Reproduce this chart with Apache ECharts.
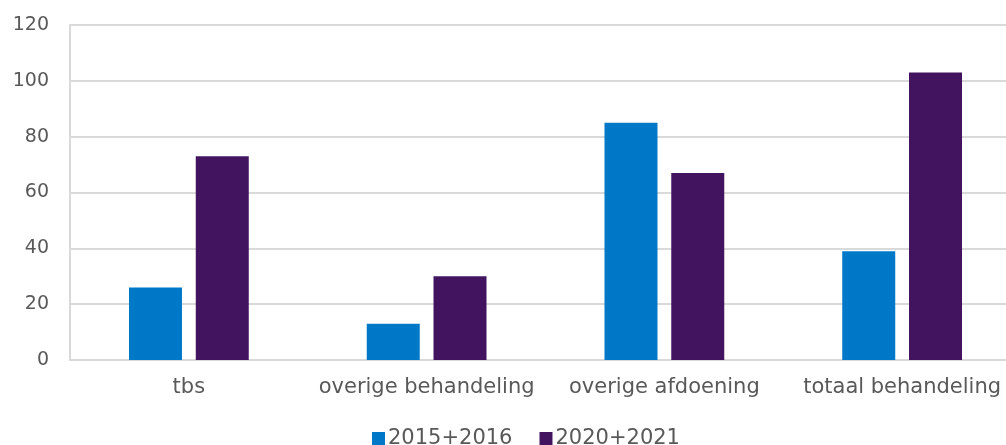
<!DOCTYPE html>
<html>
<head>
<meta charset="utf-8">
<script src="https://cdn.jsdelivr.net/npm/echarts@6/dist/echarts.min.js"></script>
<style>html,body{margin:0;padding:0;background:#fff;}#c{width:1006px;height:445px;}</style>
</head>
<body>
<div id="c"></div>
<script>
var categories = ['tbs', 'overige behandeling', 'overige afdoening', 'totaal behandeling'];
var series2015 = [26, 13, 85, 39];
var series2020 = [73, 30, 67, 103];
var seriesNames = ['2015+2016', '2020+2021'];
var yTicks = {min: 0, max: 120, interval: 20};

var chart = echarts.init(document.getElementById('c'));
var font = '"DejaVu Sans", Verdana, sans-serif';
chart.setOption({
  animation: false,
  textStyle: {fontFamily: font},
  grid: {left: 70, width: 951, top: 25, bottom: 85, containLabel: false, outerBoundsMode: 'none'},
  legend: {
    data: seriesNames,
    left: 367, top: 423,
    itemWidth: 13, itemHeight: 13, itemGap: 27,
    icon: 'rect',
    textStyle: {color: '#595959', fontSize: 21, fontFamily: font, padding: [0, 0, 0, -2]}
  },
  xAxis: {
    type: 'category',
    data: categories,
    axisLine: {show: true, lineStyle: {color: '#d9d9d9', width: 2}},
    axisTick: {show: false},
    axisLabel: {color: '#595959', fontSize: 21, margin: 17, interval: 0, fontFamily: font}
  },
  yAxis: {
    type: 'value',
    min: yTicks.min, max: yTicks.max, interval: yTicks.interval,
    axisLine: {show: true, lineStyle: {color: '#d9d9d9', width: 2}},
    axisTick: {show: false},
    axisLabel: {color: '#595959', fontSize: 19, margin: 21, fontFamily: font},
    splitLine: {lineStyle: {color: '#d9d9d9', width: 2}}
  },
  series: [
    {name: seriesNames[0], type: 'bar', data: series2015, barWidth: 53, barGap: '26%',
     itemStyle: {color: '#0078C8'}},
    {name: seriesNames[1], type: 'bar', data: series2020, barWidth: 53,
     itemStyle: {color: '#42145F'}}
  ]
});
</script>
</body>
</html>
